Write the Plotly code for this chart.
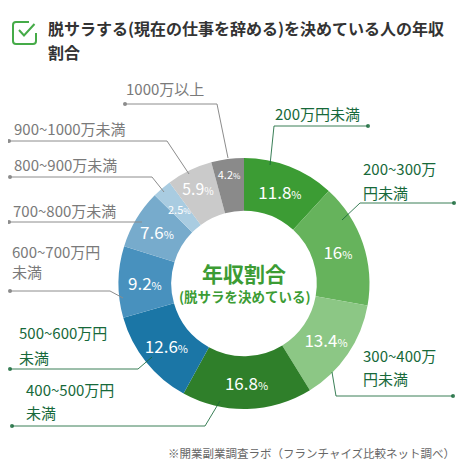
import math
import plotly.graph_objects as go

# ---- data ----
categories = [
    "200万円未満", "200~300万円未満", "300~400万円未満", "400~500万円未満",
    "500~600万円未満", "600~700万円未満", "700~800万円未満", "800~900万円未満",
    "900~1000万円未満", "1000万円以上",
]
shares = [11.8, 16, 13.4, 16.8, 12.6, 9.2, 7.6, 2.5, 5.9, 4.2]
slice_colors = [
    "#3c9c34", "#66b35c", "#8cc785", "#2f7f2a", "#1b76a6",
    "#4891be", "#77abcc", "#a9cce1", "#cacaca", "#8a8a8a",
]

# outside label lines (text shown next to each slice)
label_lines = [
    ["200万円未満"], ["200~300万", "円未満"], ["300~400万", "円未満"],
    ["400~500万円", "未満"], ["500~600万円", "未満"], ["600~700万円", "未満"],
    ["700~800万未満"], ["800~900万未満"], ["900~1000万未満"], ["1000万以上"],
]

# ---- layout helpers (pixel positions in the 470x470 window) ----
OFF = 8          # page body margin
W = H = 470 - 2 * OFF
GREEN_TXT = "#17693a"
GRAY_TXT = "#7a7a7a"
FONT = "Noto Sans CJK JP"

CX, CY, R_OUT, HOLE = 244, 283.5, 125.5, 0.58

# label x, first-line y, line gap, leader polyline, colour
label_layout = [
    (273, 113, 0, [(368, 126), (274, 126), (270, 165)], GREEN_TXT),
    (361, 168, 24, [(454, 203), (360, 203), (342, 220)], GREEN_TXT),
    (361, 355, 23, [(453, 396), (336, 396), (332, 372)], GREEN_TXT),
    (24, 389, 23, [(12, 426), (205, 426), (220, 401)], GREEN_TXT),
    (17, 332, 25, [(10, 369), (138, 369), (152, 357)], GREEN_TXT),
    (10, 252, 19, [(10, 291), (110, 291), (123, 298)], GRAY_TXT),
    (11, 210, 0, [(9, 222), (142, 222)], GRAY_TXT),
    (12, 164, 0, [(10, 177), (152, 177), (164, 192)], GRAY_TXT),
    (12, 128, 0, [(9, 141), (167, 141), (189, 174)], GRAY_TXT),
    (124, 89, 0, [(125, 104), (217, 104), (228, 158)], GRAY_TXT),
]


def px(x):
    return (x - OFF) / W


def py(y):
    return 1 - (y - OFF) / H


def pct_text(v):
    s = f"{v:g}"
    small = 11 if v >= 5 else 8
    return s + f"<span style='font-size:{small}px'>%</span>"


# tiny slices get their label as an annotation so plotly does not shrink it
pie_text = [pct_text(v) if v >= 3 else "" for v in shares]
text_sizes = [17 if v >= 5 else 11 for v in shares]

fig = go.Figure(go.Pie(
    labels=categories,
    values=shares,
    sort=False,
    direction="clockwise",
    rotation=0,
    hole=HOLE,
    text=pie_text,
    textinfo="text",
    textposition="inside",
    insidetextorientation="horizontal",
    textfont=dict(family=FONT, color="white", size=text_sizes),
    marker=dict(colors=slice_colors, line=dict(width=0)),
    domain=dict(x=[px(CX - R_OUT), px(CX + R_OUT)], y=[py(CY + R_OUT), py(CY - R_OUT)]),
    showlegend=False,
    hoverinfo="label+percent",
))

shapes = []
annotations = []

# labels for tiny slices, placed at the slice's mid angle
total = sum(shares)
cum = 0
for v in shares:
    mid = (cum + v / 2) / total * 2 * math.pi
    cum += v
    if v >= 3:
        continue
    r = R_OUT * (1 + HOLE) / 2
    annotations.append(dict(
        x=px(CX + r * math.sin(mid)), y=py(CY - r * math.cos(mid)),
        xref="paper", yref="paper", showarrow=False,
        text=f"{v:g}<span style='font-size:8px'>%</span>",
        font=dict(family=FONT, size=11, color="white"),
    ))

# leader lines + outside labels
for lines, (lx, ly, gap, pts, col) in zip(label_lines, label_layout):
    line_col = "#8c8c8c" if col == GRAY_TXT else "rgba(23,105,58,0.85)"
    path = "M " + " L ".join(f"{px(x)},{py(y)}" for x, y in pts)
    shapes.append(dict(type="path", xref="paper", yref="paper", path=path,
                       line=dict(color=line_col, width=1)))
    x0, y0 = pts[0]
    shapes.append(dict(type="circle", xref="paper", yref="paper",
                       x0=px(x0 - 2), x1=px(x0 + 2), y0=py(y0 + 2), y1=py(y0 - 2),
                       fillcolor=line_col, line=dict(width=0)))
    for i, t in enumerate(lines):
        annotations.append(dict(
            x=px(lx), y=py(ly + i * gap), xref="paper", yref="paper",
            xanchor="left", yanchor="middle", showarrow=False, text=t,
            font=dict(family=FONT, size=15, color=col),
        ))

# title with checkbox icon
ICON = "#45ab48"
shapes.append(dict(
    type="path", xref="paper", yref="paper",
    path=(f"M {px(29)},{py(22)} L {px(16)},{py(22)} Q {px(13)},{py(22)} {px(13)},{py(25)} "
          f"L {px(13)},{py(41)} Q {px(13)},{py(44)} {px(16)},{py(44)} "
          f"L {px(33)},{py(44)} Q {px(36)},{py(44)} {px(36)},{py(41)} L {px(36)},{py(33)}"),
    line=dict(color=ICON, width=2),
))
shapes.append(dict(
    type="path", xref="paper", yref="paper",
    path=f"M {px(19)},{py(30)} L {px(24)},{py(35.5)} L {px(34.5)},{py(24)}",
    line=dict(color=ICON, width=2),
))
for i, t in enumerate(["<b>脱サラする(現在の仕事を辞める)を決めている人の年収</b>", "<b>割合</b>"]):
    annotations.append(dict(
        x=px(46), y=py(28 + i * 24), xref="paper", yref="paper",
        xanchor="left", yanchor="middle", showarrow=False, text=t,
        font=dict(family=FONT, size=16, color="#333333"),
    ))

# centre text
annotations.append(dict(
    x=px(244), y=py(273), xref="paper", yref="paper", showarrow=False,
    text="<b>年収割合</b>", font=dict(family=FONT, size=21, color="#3c9c34"),
))
annotations.append(dict(
    x=px(245), y=py(296), xref="paper", yref="paper", showarrow=False,
    text="<b>(脱サラを決めている)</b>", font=dict(family=FONT, size=13.5, color="#3c9c34"),
))

# source note
annotations.append(dict(
    x=px(457), y=py(453), xref="paper", yref="paper",
    xanchor="right", yanchor="middle",
    showarrow=False, text="※開業副業調査ラボ（フランチャイズ比較ネット調べ）",
    font=dict(family=FONT, size=11.5, color="#666666"),
))

fig.update_layout(
    width=W, height=H,
    margin=dict(l=0, r=0, t=0, b=0),
    paper_bgcolor="white",
    plot_bgcolor="white",
    shapes=shapes,
    annotations=annotations,
)

fig.write_html("out.html")
